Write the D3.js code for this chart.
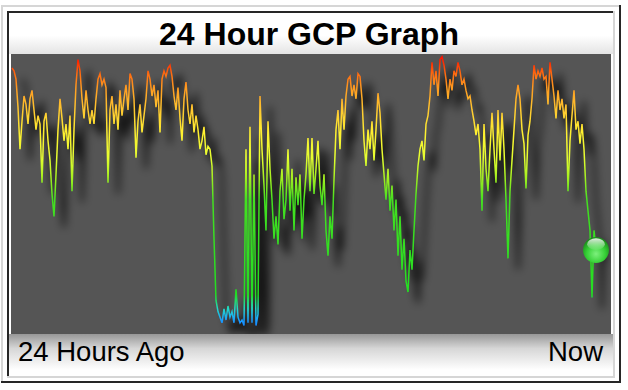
<!DOCTYPE html>
<html lang="en">
<head>
<meta charset="UTF-8" />
<title>24 Hour GCP Graph</title>
<script src="https://d3js.org/d3.v7.min.js"></script>
<style>
  body { margin: 0; background: #fff; }
  svg { display: block; font-family: "Liberation Sans", Arial, Helvetica, sans-serif; }
</style>
</head>
<body>

<svg width="628" height="390"></svg>

<script>
  const title = "24 Hour GCP Graph";
  const timeLabels = ["24 Hours Ago", "Now"];

  // network deviation, 0 (bottom, blue) .. 100 (top, red), oldest first
  const values = [
    95, 94, 91, 81, 66, 76, 85, 82, 75, 84,
    87, 80, 73, 78, 75, 54, 76, 79, 69, 62,
    50, 42, 57, 73, 84, 77, 69, 75, 66, 78,
    51, 73, 89, 98, 94, 84, 77, 87, 80, 75,
    80, 75, 84, 91, 93, 89, 91, 88, 54, 80,
    85, 75, 82, 73, 87, 78, 84, 89, 80, 93,
    91, 84, 63, 76, 82, 72, 78, 84, 94, 91,
    85, 89, 81, 87, 72, 91, 94, 92, 95, 96,
    92, 85, 80, 88, 77, 69, 84, 90, 80, 75,
    82, 72, 78, 73, 66, 69, 74, 64, 67, 66,
    60, 34, 12, 8, 6, 4, 9, 5, 10, 6,
    8, 4, 16, 6, 4, 5, 3, 66, 4, 74,
    4, 57, 3, 7, 85, 66, 53, 37, 76, 59,
    48, 34, 42, 32, 51, 59, 41, 48, 66, 44,
    59, 37, 56, 46, 57, 34, 48, 57, 70, 51,
    70, 50, 59, 69, 53, 46, 57, 37, 28, 42,
    34, 55, 73, 80, 66, 84, 73, 85, 91, 92,
    85, 89, 84, 93, 92, 84, 69, 60, 73, 66,
    76, 62, 73, 86, 79, 66, 57, 48, 59, 44,
    53, 37, 48, 28, 42, 23, 34, 19, 15, 30,
    23, 37, 50, 60, 66, 69, 62, 75, 78, 85,
    97, 89, 94, 85, 98, 99, 96, 91, 84, 91,
    87, 94, 92, 97, 94, 89, 91, 87, 84, 85,
    80, 76, 71, 75, 66, 44, 75, 59, 51, 66,
    79, 66, 54, 80, 62, 79, 66, 48, 27, 51,
    62, 73, 84, 89, 84, 73, 68, 52, 71, 76,
    84, 96, 91, 94, 92, 95, 91, 92, 82, 97,
    91, 85, 77, 87, 80, 84, 77, 82, 51, 69,
    78, 87, 73, 76, 68, 75, 66, 51, 44, 37,
    13, 37, 30
  ];

  // colour along the value axis
  const colorStops = [
    [100, "#ff0000"], [97, "#ff2a00"], [93, "#ff6a10"], [88, "#ff9a20"],
    [80, "#ffc830"], [72, "#fff030"], [63, "#e6ff30"], [56, "#a6f020"],
    [48, "#44e020"], [14, "#22dd22"], [9, "#22d8c8"], [5, "#1aa0ff"], [0, "#1060ff"]
  ];

  const svg = d3.select("svg");
  const panel = {left: 11, right: 611, top: 54, bottom: 334};

  const x = d3.scaleLinear().domain([0, values.length - 1]).range([12, 596]);
  const y = d3.scaleLinear().domain([0, 100]).range([panel.bottom, panel.top]);

  const defs = svg.append("defs");

  const lineGrad = defs.append("linearGradient")
    .attr("id", "lineGrad")
    .attr("gradientUnits", "userSpaceOnUse")
    .attr("x1", 0).attr("x2", 0)
    .attr("y1", y(100)).attr("y2", y(0));
  lineGrad.selectAll("stop").data(colorStops).join("stop")
    .attr("offset", d => (100 - d[0]) / 100)
    .attr("stop-color", d => d[1]);

  const topGrad = defs.append("linearGradient").attr("id", "topGrad")
    .attr("x1", 0).attr("x2", 0).attr("y1", 0).attr("y2", 1);
  topGrad.append("stop").attr("offset", 0).attr("stop-color", "#fff");
  topGrad.append("stop").attr("offset", 0.55).attr("stop-color", "#fff");
  topGrad.append("stop").attr("offset", 1).attr("stop-color", "#e4e4e4");

  const botGrad = defs.append("linearGradient").attr("id", "botGrad")
    .attr("x1", 0).attr("x2", 0).attr("y1", 0).attr("y2", 1);
  botGrad.append("stop").attr("offset", 0).attr("stop-color", "#979797");
  botGrad.append("stop").attr("offset", 0.4).attr("stop-color", "#d6d6d6");
  botGrad.append("stop").attr("offset", 1).attr("stop-color", "#fff");

  const ballGrad = defs.append("radialGradient").attr("id", "ballGrad")
    .attr("cx", "50%").attr("cy", "65%").attr("r", "60%");
  ballGrad.append("stop").attr("offset", 0).attr("stop-color", "#7df07d");
  ballGrad.append("stop").attr("offset", 0.6).attr("stop-color", "#36d036");
  ballGrad.append("stop").attr("offset", 1).attr("stop-color", "#1b8f1b");

  const shineGrad = defs.append("linearGradient").attr("id", "shineGrad")
    .attr("x1", 0).attr("x2", 0).attr("y1", 0).attr("y2", 1);
  shineGrad.append("stop").attr("offset", 0).attr("stop-color", "#fff").attr("stop-opacity", 0.85);
  shineGrad.append("stop").attr("offset", 1).attr("stop-color", "#fff").attr("stop-opacity", 0.05);

  defs.append("filter").attr("id", "blur")
    .attr("x", "-5%").attr("y", "-10%").attr("width", "110%").attr("height", "120%")
    .append("feGaussianBlur").attr("stdDeviation", 4);

  defs.append("clipPath").attr("id", "clip")
    .append("rect")
    .attr("x", panel.left).attr("y", panel.top)
    .attr("width", panel.right - panel.left).attr("height", panel.bottom - panel.top);

  // page background and table frame
  svg.append("rect").attr("width", 628).attr("height", 390).attr("fill", "#fff");
  svg.append("rect").attr("x", 9).attr("y", 13).attr("width", 604).attr("height", panel.top - 13)
    .attr("fill", "url(#topGrad)");
  svg.append("rect").attr("x", 9).attr("y", panel.bottom).attr("width", 604).attr("height", 36)
    .attr("fill", "url(#botGrad)");

  const frame = [
    [1, 5, 620, 2, "#d6d6d6"], [1, 5, 2, 378, "#d6d6d6"],
    [619, 5, 2, 378, "#262626"], [1, 381, 620, 2, "#262626"],
    [7, 11, 608, 2, "#262626"], [7, 11, 2, 367, "#262626"],
    [613, 11, 2, 367, "#d6d6d6"], [7, 376, 608, 2, "#d6d6d6"]
  ];
  svg.append("g").selectAll("rect").data(frame).join("rect")
    .attr("x", d => d[0]).attr("y", d => d[1])
    .attr("width", d => d[2]).attr("height", d => d[3])
    .attr("fill", d => d[4]);

  // grey plot panel
  svg.append("rect")
    .attr("x", panel.left).attr("y", panel.top)
    .attr("width", panel.right - panel.left).attr("height", panel.bottom - panel.top)
    .attr("fill", "#555555");

  const line = d3.line()
    .x((d, i) => x(i))
    .y(d => y(d));

  const plot = svg.append("g").attr("clip-path", "url(#clip)");

  // blurred drop shadow
  plot.append("g")
    .attr("transform", "translate(10,11)")
    .append("path")
    .datum(values)
    .attr("d", line)
    .attr("fill", "none")
    .attr("stroke", "#000")
    .attr("stroke-width", 3)
    .attr("stroke-opacity", 0.75)
    .attr("filter", "url(#blur)");

  plot.append("path")
    .datum(values)
    .attr("d", line)
    .attr("fill", "none")
    .attr("stroke", "url(#lineGrad)")
    .attr("stroke-width", 1.5)
    .attr("stroke-linejoin", "miter");

  // current value ball
  const last = values.length - 1;
  const bx = x(last), by = y(values[last]), r = 13;
  svg.append("circle")
    .attr("cx", bx).attr("cy", by).attr("r", r)
    .attr("fill", "url(#ballGrad)");
  svg.append("ellipse")
    .attr("cx", bx).attr("cy", by - r * 0.45)
    .attr("rx", r * 0.68).attr("ry", r * 0.45)
    .attr("fill", "url(#shineGrad)");

  // texts
  svg.append("text")
    .attr("x", 309).attr("y", 45)
    .attr("text-anchor", "middle")
    .style("font-size", "32px").style("font-weight", "bold")
    .text(title);

  svg.append("text")
    .attr("x", 18).attr("y", 361)
    .style("font-size", "27.5px")
    .text(timeLabels[0]);

  svg.append("text")
    .attr("x", 603).attr("y", 361)
    .attr("text-anchor", "end")
    .style("font-size", "27.5px")
    .text(timeLabels[1]);
</script>

</body>
</html>
